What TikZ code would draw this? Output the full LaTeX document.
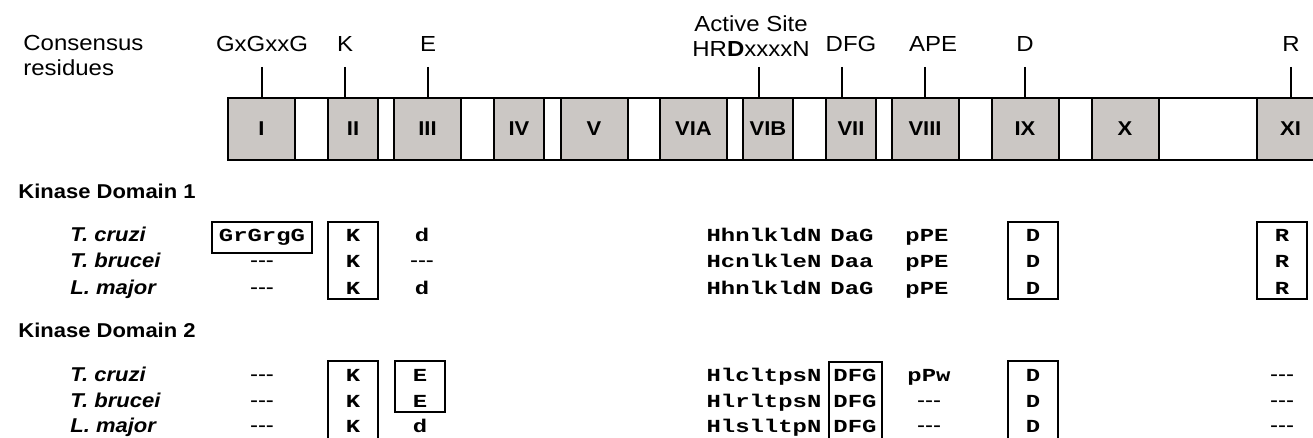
\documentclass[tikz,border=0pt]{standalone}
\usepackage{fontspec}
\setmainfont{Liberation Sans}[FakeStretch=1.1]
\newfontfamily\seqfont{Liberation Mono}[FakeStretch=1.3]
\usepackage{tikz}
\usetikzlibrary{positioning}
\definecolor{motifgray}{HTML}{CBC7C4}
\newcommand{\dashes}{-{}-{}-}
\tikzstyle{motif} = [draw=black, line width=1pt, fill=motifgray, minimum height=31pt, inner sep=0pt, font=\bfseries]
\tikzstyle{wide} = [minimum width=33.5pt]
\tikzstyle{narrow} = [minimum width=25pt]
\tikzstyle{tick} = [line width=0.8pt]
\tikzstyle{toptext} = [anchor=base, inner sep=0pt]
\tikzstyle{header} = [anchor=base west, inner sep=0pt, font=\bfseries]
\tikzstyle{species} = [anchor=base west, inner sep=0pt, font=\bfseries\itshape]
\tikzstyle{seq} = [anchor=base, inner sep=0pt, font=\seqfont\bfseries\fontsize{9.2}{11}\selectfont]
\tikzstyle{miss} = [anchor=base, inner sep=0pt]
\tikzstyle{hbox} = [line width=1pt]

\begin{document}
\begin{tikzpicture}[x=0.5pt, y=-0.5pt, font=\fontsize{10.9}{12.5}\selectfont]
\clip (0,0) rectangle (1313,438);

%kinase bar
\draw[line width=1pt, fill=white] (228,98) rectangle (1330,160);
\node[motif, wide] (I) at (261.5,129) {I};
\node[motif, narrow] (II) at (353,129) {II};
\node[motif, wide] (III) at (427.5,129) {III};
\node[motif, narrow] (IV) at (519,129) {IV};
\node[motif, wide] (V) at (594,129) {V};
\node[motif, wide] (VIA) at (693.5,129) {VIA};
\node[motif, narrow] (VIB) at (768,129) {VIB};
\node[motif, narrow] (VII) at (851,129) {VII};
\node[motif, wide] (VIII) at (925,129) {VIII};
\node[motif, wide] (IX) at (1025,129) {IX};
\node[motif, wide] (X) at (1125,129) {X};
\node[motif, wide] (XI) at (1290.5,129) {XI};

%consensus residues
\node[anchor=base west, inner sep=0pt] (cons1) at (23,51) {Consensus};
\node[anchor=base west, inner sep=0pt] (cons2) at (23,76) {residues};
\node[toptext] (gxg) at (262,52) {GxGxxG};
\node[toptext] (lysK) at (345,52) {K};
\node[toptext] (gluE) at (428,52) {E};
\node[toptext] (act1) at (751,32) {Active Site};
\node[toptext] (act2) at (751,57) {HR\textbf{D}xxxxN};
\node[toptext] (dfg) at (851,52) {DFG};
\node[toptext] (ape) at (933,52) {APE};
\node[toptext] (aspD) at (1025,52) {D};
\node[toptext] (argR) at (1291,52) {R};

%ticks
\coordinate (tI) at (262,67);
\coordinate (tII) at (345,67);
\coordinate (tIII) at (428,67);
\coordinate (tVIB) at (759,67);
\coordinate (tVII) at (842,67);
\coordinate (tVIII) at (925,67);
\coordinate (tIX) at (1025,67);
\coordinate (tXI) at (1291,67);
\draw[tick] (tI) -- (tI |- I.north);
\draw[tick] (tII) -- (tII |- II.north);
\draw[tick] (tIII) -- (tIII |- III.north);
\draw[tick] (tVIB) -- (tVIB |- VIB.north);
\draw[tick] (tVII) -- (tVII |- VII.north);
\draw[tick] (tVIII) -- (tVIII |- VIII.north);
\draw[tick] (tIX) -- (tIX |- IX.north);
\draw[tick] (tXI) -- (tXI |- XI.north);

%Kinase Domain 1
\node[header] (kd1) at (18,199) {Kinase Domain 1};
\node[species] (sp1c) at (70,242) {T. cruzi};
\node[species] (sp1b) at (70,268) {T. brucei};
\node[species] (sp1m) at (70,295) {L. major};

\node[seq] (g1c) at (262,242) {GrGrgG};
\node[miss] (g1b) at (262,268) {\dashes};
\node[miss] (g1m) at (262,295) {\dashes};
\node[seq] (k1c) at (353,242) {K};
\node[seq] (k1b) at (353,268) {K};
\node[seq] (k1m) at (353,295) {K};
\node[seq] (e1c) at (422,242) {d};
\node[miss] (e1b) at (422,268) {\dashes};
\node[seq] (e1m) at (422,295) {d};
\node[seq] (h1c) at (764,242) {HhnlkldN};
\node[seq] (h1b) at (764,268) {HcnlkleN};
\node[seq] (h1m) at (764,295) {HhnlkldN};
\node[seq] (f1c) at (852,242) {DaG};
\node[seq] (f1b) at (852,268) {Daa};
\node[seq] (f1m) at (852,295) {DaG};
\node[seq] (a1c) at (927,242) {pPE};
\node[seq] (a1b) at (927,268) {pPE};
\node[seq] (a1m) at (927,295) {pPE};
\node[seq] (d1c) at (1033,242) {D};
\node[seq] (d1b) at (1033,268) {D};
\node[seq] (d1m) at (1033,295) {D};
\node[seq] (r1c) at (1282,242) {R};
\node[seq] (r1b) at (1282,268) {R};
\node[seq] (r1m) at (1282,295) {R};

\draw[hbox] (212,222) rectangle (312,253);
\draw[hbox] (328,222) rectangle (378,299);
\draw[hbox] (1008,222) rectangle (1058,299);
\draw[hbox] (1257,222) rectangle (1307,299);

%Kinase Domain 2
\node[header] (kd2) at (18,338) {Kinase Domain 2};
\node[species] (sp2c) at (70,382) {T. cruzi};
\node[species] (sp2b) at (70,408) {T. brucei};
\node[species] (sp2m) at (70,433) {L. major};

\node[miss] (g2c) at (262,382) {\dashes};
\node[miss] (g2b) at (262,408) {\dashes};
\node[miss] (g2m) at (262,433) {\dashes};
\node[seq] (k2c) at (353,382) {K};
\node[seq] (k2b) at (353,408) {K};
\node[seq] (k2m) at (353,433) {K};
\node[seq] (e2c) at (420,382) {E};
\node[seq] (e2b) at (420,408) {E};
\node[seq] (e2m) at (420,433) {d};
\node[seq] (h2c) at (764,382) {HlcltpsN};
\node[seq] (h2b) at (764,408) {HlrltpsN};
\node[seq] (h2m) at (764,433) {HlslltpN};
\node[seq] (f2c) at (855,382) {DFG};
\node[seq] (f2b) at (855,408) {DFG};
\node[seq] (f2m) at (855,433) {DFG};
\node[seq] (a2c) at (929,382) {pPw};
\node[miss] (a2b) at (929,408) {\dashes};
\node[miss] (a2m) at (929,433) {\dashes};
\node[seq] (d2c) at (1033,382) {D};
\node[seq] (d2b) at (1033,408) {D};
\node[seq] (d2m) at (1033,433) {D};
\node[miss] (r2c) at (1282,382) {\dashes};
\node[miss] (r2b) at (1282,408) {\dashes};
\node[miss] (r2m) at (1282,433) {\dashes};

\draw[hbox] (328,361) rectangle (378,442);
\draw[hbox] (395,361) rectangle (445,412);
\draw[hbox] (829,362) rectangle (882,442);
\draw[hbox] (1008,361) rectangle (1058,442);

\end{tikzpicture}
\end{document}
